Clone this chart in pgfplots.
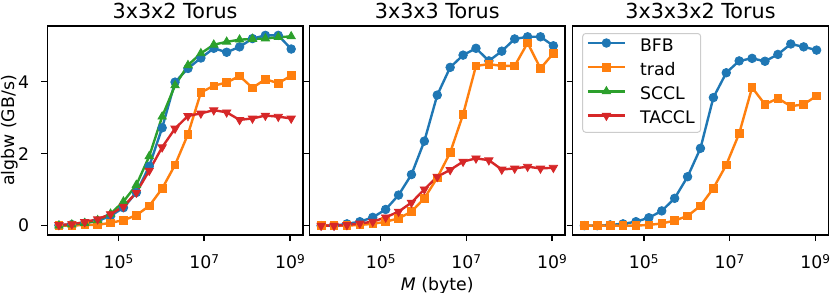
\documentclass[border=0pt]{standalone}
\usepackage{fontspec}
\setmainfont{DejaVu Sans}
\usepackage{pgfplots}
\usepackage{pgfplotstable}
\pgfplotsset{compat=1.18}

\definecolor{c0}{HTML}{1F77B4}
\definecolor{c1}{HTML}{FF7F0E}
\definecolor{c2}{HTML}{2CA02C}
\definecolor{c3}{HTML}{D62728}

\newcommand{\tenpow}[1]{10\raisebox{0.32em}{\fontsize{12.1bp}{12bp}\selectfont #1}}

% panel 1: 3x3x2 Torus
\pgfplotstableread{
x bfb trad sccl taccl
4096 0.01 0.00 0.00 0.02
8192 0.03 0.00 0.03 0.04
16384 0.07 0.02 0.07 0.10
32768 0.13 0.02 0.15 0.18
65536 0.27 0.08 0.33 0.32
131072 0.50 0.15 0.67 0.53
262144 0.92 0.29 1.13 0.92
524288 1.65 0.55 1.93 1.53
1048576 2.72 1.03 3.03 2.18
2097152 3.99 1.69 3.90 2.70
4194304 4.37 2.54 4.46 3.05
8388608 4.66 3.70 4.79 3.12
16777216 4.93 3.89 5.03 3.21
33554432 4.82 3.98 5.11 3.15
67108864 4.97 4.16 5.17 2.94
134217728 5.20 3.83 5.19 2.98
268435456 5.29 4.07 5.20 3.06
536870912 5.29 3.96 5.24 3.03
1073741824 4.91 4.17 5.26 2.98
}\tableA

% panel 2: 3x3x3 Torus
\pgfplotstableread{
x bfb trad taccl
4096 0.00 0.00 0.00
8192 0.00 0.00 0.00
16384 0.05 0.00 0.02
32768 0.11 0.02 0.06
65536 0.23 0.05 0.11
131072 0.45 0.11 0.23
262144 0.85 0.20 0.39
524288 1.42 0.39 0.64
1048576 2.35 0.76 1.01
2097152 3.63 1.33 1.36
4194304 4.40 2.03 1.55
8388608 4.74 3.09 1.78
16777216 4.93 4.44 1.87
33554432 4.58 4.49 1.82
67108864 4.85 4.44 1.56
134217728 5.19 4.44 1.59
268435456 5.25 5.08 1.64
536870912 5.25 4.37 1.59
1073741824 5.00 4.79 1.61
}\tableB

% panel 3: 3x3x3x2 Torus
\pgfplotstableread{
x bfb trad
4096 0.00 0.00
8192 0.00 0.00
16384 0.02 0.00
32768 0.05 0.00
65536 0.11 0.00
131072 0.22 0.02
262144 0.41 0.06
524288 0.76 0.14
1048576 1.36 0.27
2097152 2.15 0.55
4194304 3.56 1.04
8388608 4.25 1.69
16777216 4.58 2.56
33554432 4.65 3.84
67108864 4.57 3.37
134217728 4.76 3.54
268435456 5.05 3.32
536870912 4.97 3.37
1073741824 4.88 3.61
}\tableC

\pgfplotsset{
  every axis plot/.append style={line width=2.4bp},
  every axis title/.style={at={(0.5,1)}, anchor=base, yshift=7.7bp, inner sep=0pt, font=\fontsize{20.7bp}{24bp}\selectfont},
  every axis y label/.style={at={(axis description cs:0,0.5)}, xshift=-37.3bp, rotate=90, anchor=center, inner sep=0pt, font=\fontsize{17.3bp}{20bp}\selectfont},
  every axis x label/.style={at={(axis description cs:0.5,0)}, yshift=-55bp, anchor=base, inner sep=0pt, font=\fontsize{17.3bp}{20bp}\selectfont},
  rkpanel/.style={
    scale only axis, width=255.5bp, height=209bp,
    xmin=2193, xmax=2.004e9, ymin=-0.26, ymax=5.55,
    xtick={1e5,1e7,1e9}, xticklabels={\tenpow{5},\tenpow{7},\tenpow{9}},
    ytick={0,2,4},
    xtick pos=bottom, ytick pos=left,
    tick align=outside, major tick length=6bp,
    tick style={line width=1.4bp, black},
    axis line style={line width=1.4bp, black},
    /pgf/number format/assume math mode=true,
    tick label style={font=\fontsize{17.3bp}{20bp}\selectfont},
    xticklabel style={anchor=north, inner sep=0pt, yshift=-13bp},
    yticklabel style={anchor=east, inner sep=0pt, xshift=-12bp},
  },
  rkbfb/.style={color=c0, mark=*, mark size=4.3bp, mark options={solid, fill=c0, draw=c0, line width=0.8bp}},
  rktrad/.style={color=c1, mark=square*, mark size=3.8bp, mark options={solid, fill=c1, draw=c1, line width=0.8bp}},
  rksccl/.style={color=c2, mark=triangle*, mark size=4.8bp, mark options={solid, fill=c2, draw=c2, line width=0.8bp}},
  rktaccl/.style={color=c3, mark=triangle*, mark size=4.8bp, mark options={solid, fill=c3, draw=c3, line width=0.8bp, rotate=180}},
}

\begin{document}
\begin{tikzpicture}
\path[use as bounding box] (0,0) rectangle (831bp,293bp);

\begin{semilogxaxis}[rkpanel, at={(47.3bp,58bp)}, anchor=south west,
  title={3x3x2 Torus},
  ylabel={algbw (GB/s)}]
\addplot[rkbfb] table[x=x, y=bfb] {\tableA};
\addplot[rktrad] table[x=x, y=trad] {\tableA};
\addplot[rksccl] table[x=x, y=sccl] {\tableA};
\addplot[rktaccl] table[x=x, y=taccl] {\tableA};
\end{semilogxaxis}

\begin{semilogxaxis}[rkpanel, at={(309.5bp,58bp)}, anchor=south west,
  title={3x3x3 Torus}, yticklabels={},
  xlabel={\textit{M} (byte)}]
\addplot[rkbfb] table[x=x, y=bfb] {\tableB};
\addplot[rktrad] table[x=x, y=trad] {\tableB};
\addplot[rktaccl] table[x=x, y=taccl] {\tableB};
\end{semilogxaxis}

\begin{semilogxaxis}[rkpanel, at={(572.7bp,58bp)}, anchor=south west,
  title={3x3x3x2 Torus}, yticklabels={},
  legend cell align=left,
  legend image code/.code={\draw[mark repeat=2,mark phase=2,yshift=0.36em] plot coordinates {(0bp,0bp)(18.5bp,0bp)(37bp,0bp)};},
  legend style={at={(axis description cs:0,1)}, anchor=north west, xshift=9.5bp, yshift=-7bp,
    draw=black!20, line width=1bp, rounded corners=3bp, fill=white,
    font=\fontsize{17.3bp}{20bp}\selectfont, inner xsep=4bp, inner ysep=3bp, row sep=4bp,
    nodes={inner sep=2bp, text height=12.6bp, text depth=3.6bp},
    /tikz/every odd column/.append style={column sep=12bp}}]
\addplot[rkbfb] table[x=x, y=bfb] {\tableC};
\addplot[rktrad] table[x=x, y=trad] {\tableC};
\addlegendimage{rksccl}
\addlegendimage{rktaccl}
\legend{BFB,trad,SCCL,TACCL}
\end{semilogxaxis}
\end{tikzpicture}
\end{document}
